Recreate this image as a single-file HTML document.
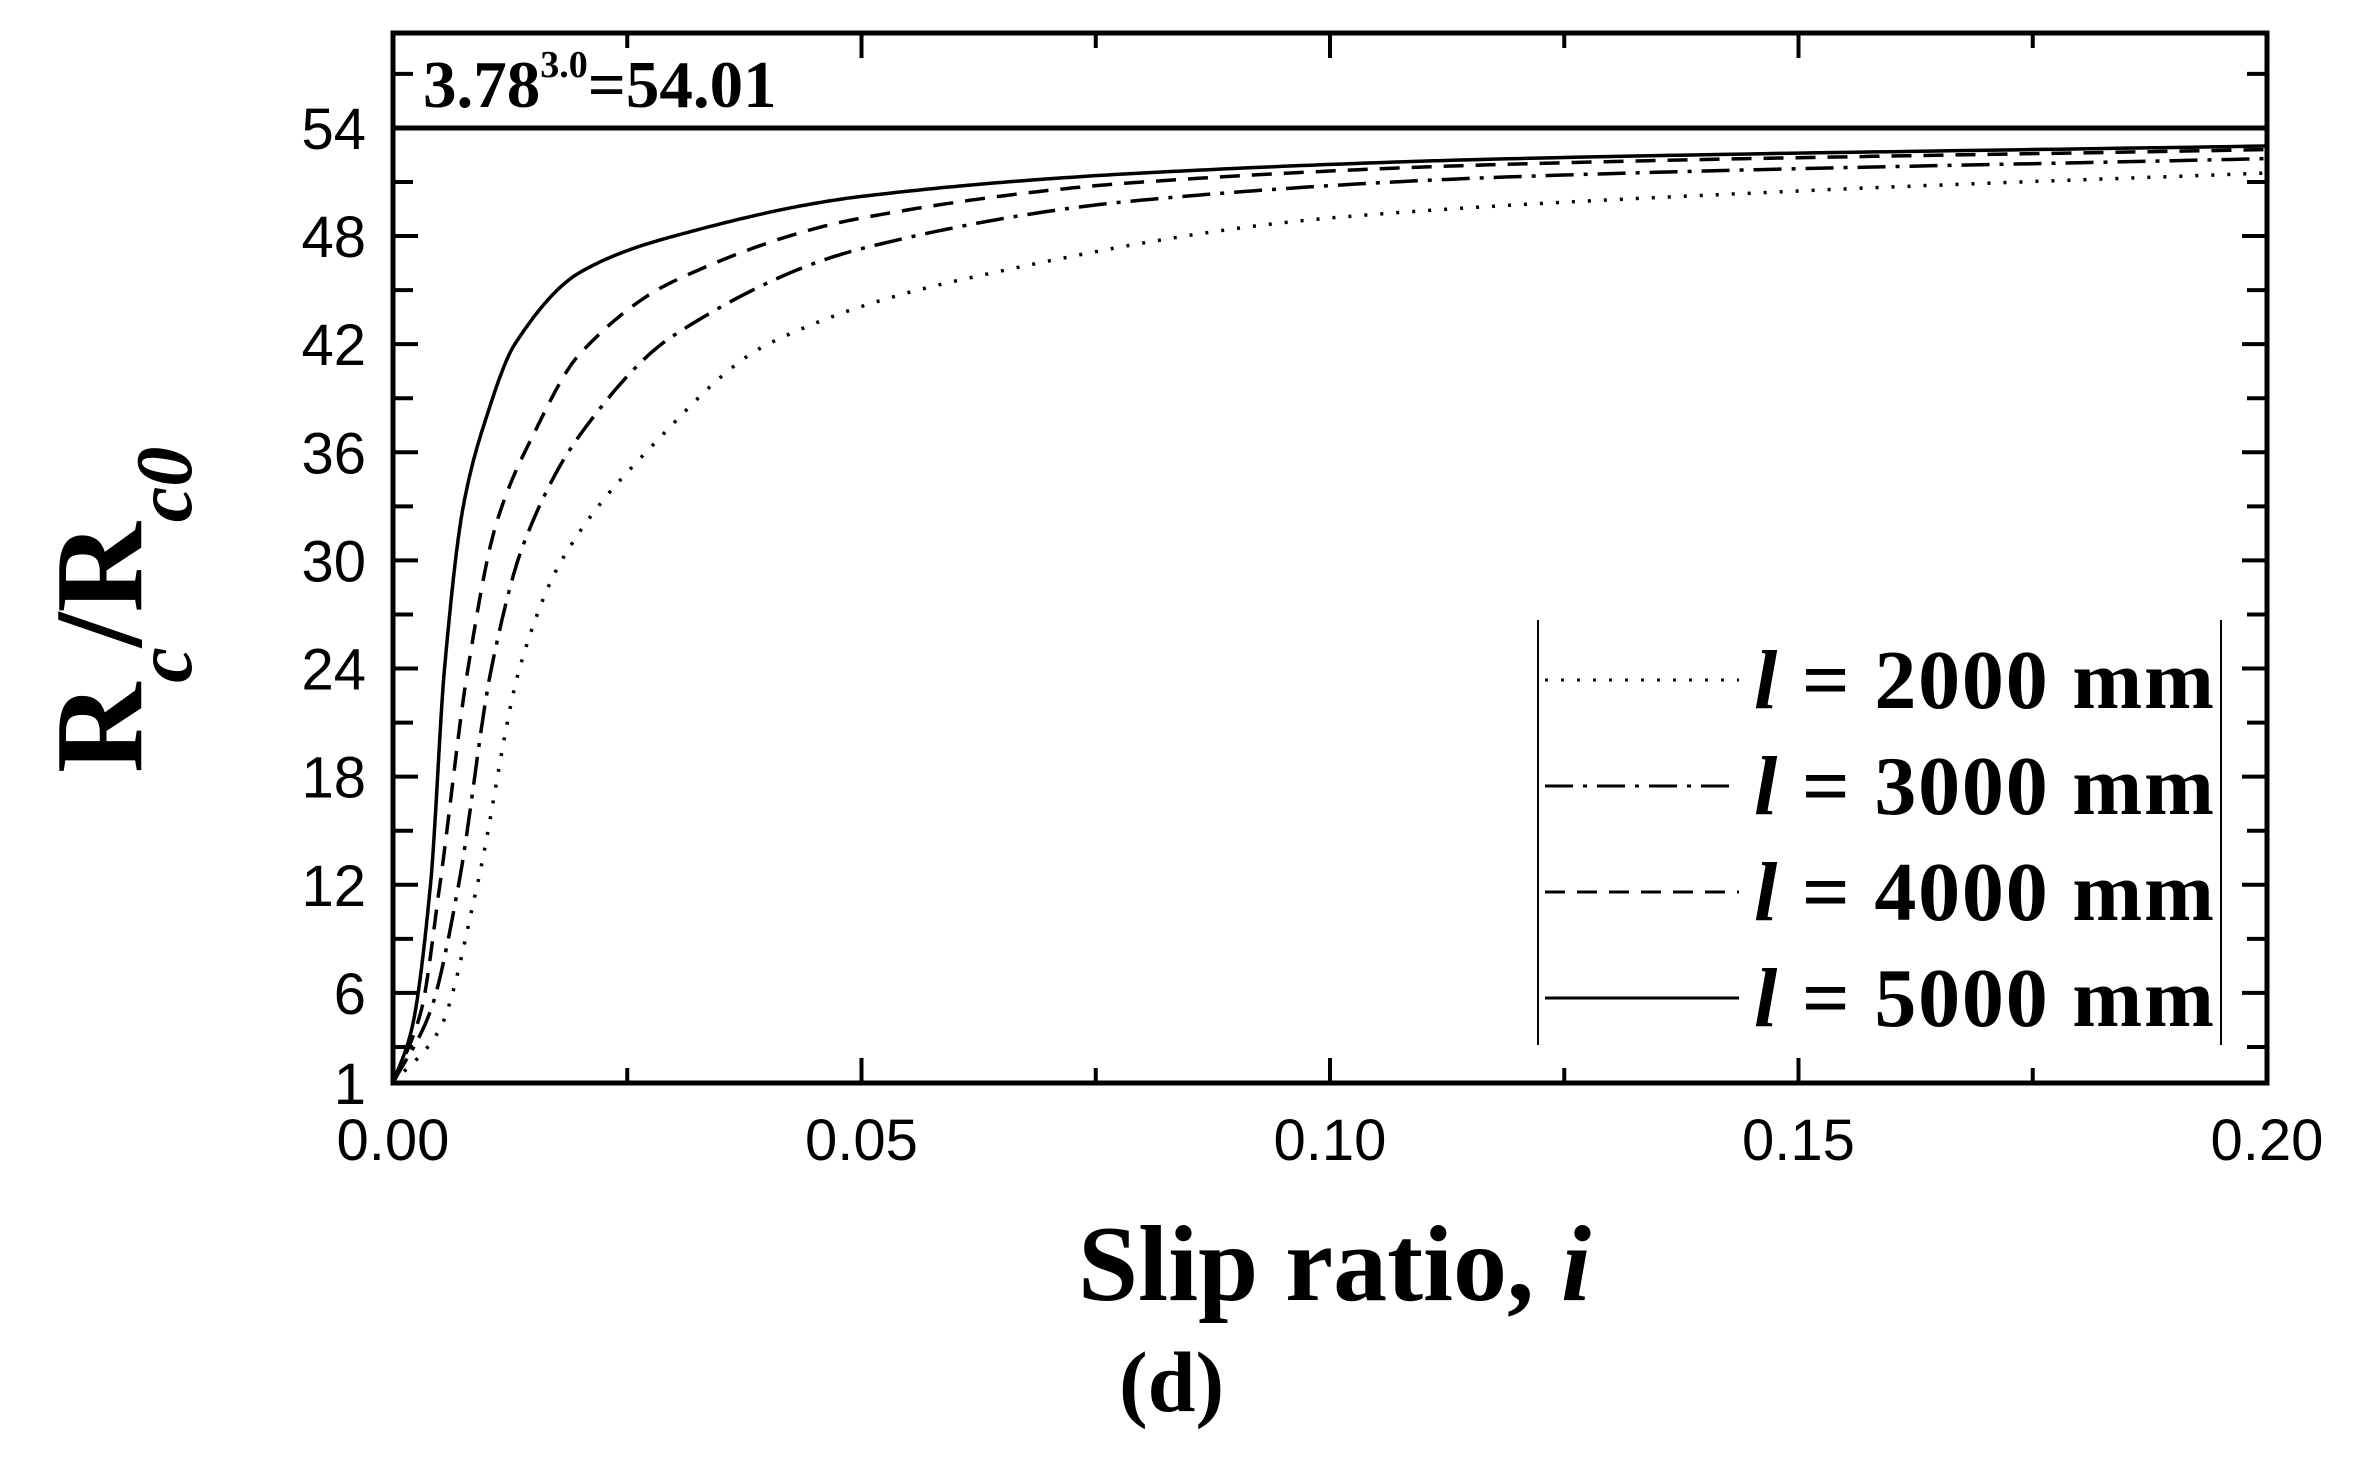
<!DOCTYPE html>
<html><head><meta charset="utf-8"><style>
html,body{margin:0;padding:0;background:#fff;}
svg{display:block;}
.tk{font-family:"Liberation Sans",sans-serif;font-size:58px;fill:#000;}
.sr{font-family:"Liberation Serif",serif;font-weight:bold;fill:#000;}
</style></head><body>
<svg id="s" width="2371" height="1460" viewBox="0 0 2371 1460" xmlns="http://www.w3.org/2000/svg">
<rect x="393" y="33" width="1874" height="1050" fill="none" stroke="#000" stroke-width="5"/>
<line x1="393" y1="128" x2="2267" y2="128" stroke="#000" stroke-width="5"/>
<g id="ticks" stroke="#000" stroke-width="4"></g>
<g id="curves" fill="none" stroke="#000"></g>
<text class="sr" x="423" y="107" font-size="67">3.78<tspan dy="-30" font-size="38">3.0</tspan><tspan dy="30">=54.01</tspan></text>
<g id="lbl"></g>
<line x1="1538" y1="620" x2="1538" y2="1045" stroke="#000" stroke-width="2"/>
<line x1="2221" y1="620" x2="2221" y2="1045" stroke="#000" stroke-width="2"/>
<g stroke="#000" stroke-width="3">
<line x1="1545" y1="680" x2="1739" y2="680" stroke-dasharray="3 13"/>
<line x1="1545" y1="786" x2="1739" y2="786" stroke-dasharray="28 10 4 10"/>
<line x1="1545" y1="892" x2="1739" y2="892" stroke-dasharray="20 12"/>
<line x1="1545" y1="998" x2="1739" y2="998"/>
</g>
<g class="sr" font-size="84">
<text x="1754" y="708" textLength="460"><tspan font-style="italic">l</tspan> = 2000 mm</text>
<text x="1754" y="814" textLength="460"><tspan font-style="italic">l</tspan> = 3000 mm</text>
<text x="1754" y="920" textLength="460"><tspan font-style="italic">l</tspan> = 4000 mm</text>
<text x="1754" y="1026" textLength="460"><tspan font-style="italic">l</tspan> = 5000 mm</text>
</g>
<text class="sr" x="1078" y="1300" font-size="108">Slip ratio, <tspan font-style="italic">i</tspan></text>
<text class="sr" x="1119" y="1411" font-size="86" font-weight="normal">(<tspan font-weight="bold">d</tspan>)</text>
<text class="sr" transform="translate(141,773) rotate(-90)" font-size="125">R<tspan dy="50" font-size="80" font-style="italic">c</tspan><tspan dy="-50">/R</tspan><tspan dy="50" font-size="80" font-style="italic">c0</tspan></text>
</svg>
<script>
var X0=393,X1=2267,YB=1083,YS=18.02;
function px(x){return X0+(X1-X0)*x/0.2;}
function py(y){return YB-(y-1)*YS;}
var ns="http://www.w3.org/2000/svg";
function el(t,a,p){var e=document.createElementNS(ns,t);for(var k in a)e.setAttribute(k,a[k]);p.appendChild(e);return e;}
var tg=document.getElementById('ticks'),lg=document.getElementById('lbl');
for(var v=3;v<=57;v+=3){var y=py(v),L=(v%6==0)?25:20;el('line',{x1:X0,y1:y,x2:X0+L,y2:y},tg);el('line',{x1:X1,y1:y,x2:X1-L,y2:y},tg);}
var yl=[1,6,12,18,24,30,36,42,48,54];
yl.forEach(function(v){var t=el('text',{x:366,y:py(v)+21,'text-anchor':'end','class':'tk'},lg);t.textContent=v;});
for(var i=0;i<=8;i++){var x=px(i*0.025),L=(i%2==0)?25:15;el('line',{x1:x,y1:YB,x2:x,y2:YB-L},tg);el('line',{x1:x,y1:33,x2:x,y2:33+L},tg);
 if(i%2==0){var t=el('text',{x:x,y:1160,'text-anchor':'middle','class':'tk'},lg);t.textContent=(i*0.025).toFixed(2);}}
var C=[
 {d:"3 13",p:[[0,1],[0.005,4],[0.009,12],[0.0135,24],[0.018,30],[0.027,36],[0.04,42],[0.06,45.5],[0.1,49],[0.15,50.5],[0.2,51.5]]},
 {d:"28 10 4 10",p:[[0,1],[0.004,5],[0.007,12],[0.0105,24],[0.014,31],[0.02,37],[0.03,42.5],[0.05,47.3],[0.08,50],[0.12,51.3],[0.2,52.3]]},
 {d:"20 12",p:[[0,1],[0.003,5],[0.005,12],[0.008,24],[0.011,32],[0.015,37],[0.02,41.5],[0.03,45.5],[0.05,49],[0.08,51],[0.12,52],[0.2,52.8]]},
 {d:"",p:[[0,1],[0.002,4],[0.004,12],[0.0055,24],[0.0075,33],[0.01,38],[0.013,42],[0.02,46],[0.03,48],[0.05,50.2],[0.08,51.5],[0.12,52.3],[0.2,53]]}
];
function mono(P){var n=P.length,d=[],m=[];for(var i=0;i<n-1;i++)d.push((P[i+1][1]-P[i][1])/(P[i+1][0]-P[i][0]));
 m[0]=d[0];m[n-1]=d[n-2];for(i=1;i<n-1;i++){m[i]=(d[i-1]*d[i]<=0)?0:2/(1/d[i-1]+1/d[i]);}
 var s="";for(i=0;i<n-1;i++){var h=P[i+1][0]-P[i][0];for(var k=0;k<=40;k++){var t=k/40,t2=t*t,t3=t2*t;
 var y=(2*t3-3*t2+1)*P[i][1]+(t3-2*t2+t)*h*m[i]+(-2*t3+3*t2)*P[i+1][1]+(t3-t2)*h*m[i+1];var x=P[i][0]+t*h;
 s+=(s?"L":"M")+px(x).toFixed(1)+","+py(y).toFixed(1);}}return s;}
var cg=document.getElementById('curves');
C.forEach(function(c){var a={d:mono(c.p),'stroke-width':3.5};if(c.d)a['stroke-dasharray']=c.d;el('path',a,cg);});
</script>
</body></html>
